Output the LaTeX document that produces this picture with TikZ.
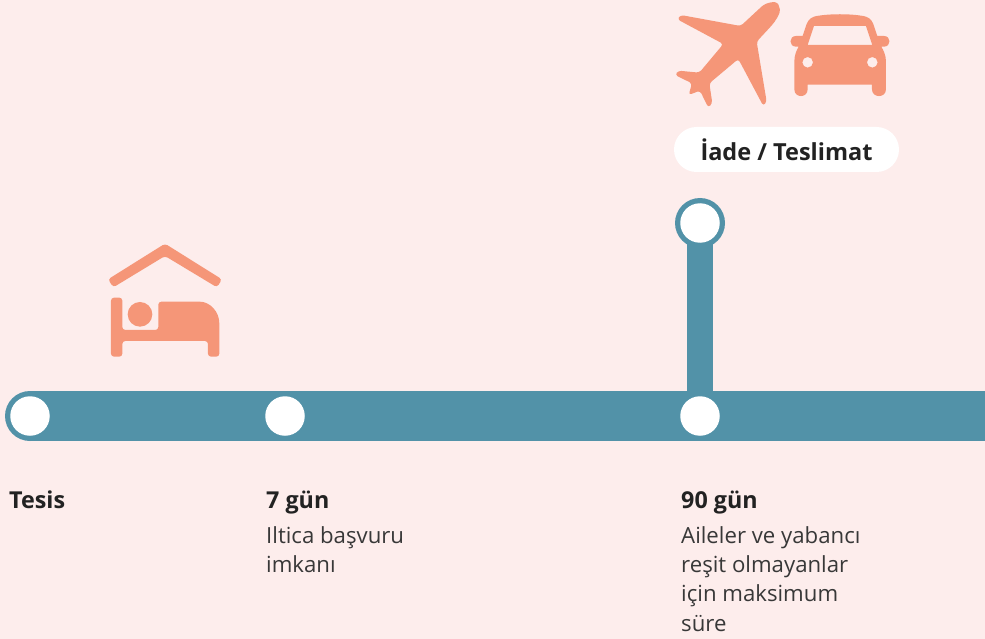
\documentclass[tikz,border=0pt]{standalone}
\usepackage{fontspec}
\usetikzlibrary{backgrounds}
\setmainfont{Open Sans}
\definecolor{bgpink}{HTML}{FDEDEC}
\definecolor{iconsalmon}{HTML}{F59678}
\definecolor{lineteal}{HTML}{5292A8}
\definecolor{textdark}{HTML}{222222}

\begin{document}
\begin{tikzpicture}[
        x=1pt, y=-1pt,
        icon/.style={fill=iconsalmon, draw=none},
        stop/.style={circle, fill=white, draw=none, minimum size=39.5pt, inner sep=0pt},
        head/.style={anchor=base west, inner sep=0pt, font=\fontsize{23.3}{28}\selectfont\bfseries, text=textdark},
        body/.style={anchor=north west, inner sep=0pt, align=left, font=\fontsize{22.2}{29.4}\selectfont, text=textdark!90},
    ]

    \useasboundingbox (0,0) rectangle (985,639);

    % timeline
    \node[stop] (tesis) at (30,416) {};
    \node[stop] (week) at (285,416) {};
    \node[stop] (days) at (700,416) {};
    \node[stop] (handover) at (700,223) {};
    \coordinate (lineend) at (985,416);

    \begin{pgfonlayer}{background}
        \fill[bgpink] (0,0) rectangle (985,639);
        \draw[lineteal, line width=50pt] (tesis.center) -- (lineend);
        \fill[lineteal] (tesis.center) circle (25);
        \draw[lineteal, line width=26pt] (days.center) -- (handover.center);
        \fill[lineteal] (handover.center) circle (25);
    \end{pgfonlayer}

    % pill
    \node[fill=white, rounded corners=22.5pt, minimum width=225pt, minimum height=45pt, inner sep=0pt,
        font=\fontsize{23.5}{28}\selectfont\bfseries, text=textdark] (pill) at (786.5,149.5) {İade / Teslimat};

    % plane and car
    \begin{scope}[shift={(660,0)}, x=0.3333pt, y=-0.3333pt]
        \fill[icon, rounded corners=3pt] (52,58) -- (62,45) -- (242,78) -- (298,26)
            .. controls (320,6) and (350,2) .. (358,20)
            .. controls (362,40) and (345,65) .. (330,82) -- (290,125) -- (320,305)
            -- (310,318) -- (235,177) -- (148,250) -- (157,310) -- (145,323)
            -- (120,272) -- (86,285) -- (96,250) -- (45,225) -- (55,212) -- (118,218)
            -- (190,132) -- cycle;
        \fill[icon, even odd rule] (403,185) .. controls (403,165) and (410,150) .. (416,140)
            -- (408,140) .. controls (386,140) and (386,108) .. (408,108) -- (428,108) -- (440,72)
            .. controls (446,56) and (458,50) .. (470,48)
            .. controls (510,41) and (570,41) .. (610,48)
            .. controls (622,50) and (634,56) .. (640,72) -- (652,108) -- (672,108)
            .. controls (694,108) and (694,140) .. (672,140) -- (664,140)
            .. controls (670,150) and (678,165) .. (678,185) -- (678,268)
            .. controls (678,295) and (636,295) .. (636,268) -- (636,254) -- (443,254) -- (443,268)
            .. controls (443,295) and (403,295) .. (403,268) -- cycle
            (443,135) -- (637,135) -- (618,78) -- (462,78) -- cycle
            (443,187) circle (5.33pt) (637,187) circle (5.33pt);
    \end{scope}

    % bed under roof
    \begin{scope}[shift={(90,230)}, x=0.3333pt, y=-0.3333pt]
        \fill[icon, rounded corners=3pt] (225,41) -- (396,148) -- (381,172) -- (225,78) -- (70,172) -- (54,148) -- cycle;
        \fill[icon, rounded corners=3pt] (63,203) -- (97,203) -- (97,300) -- (205,300) -- (205,215)
            -- (320,215) [rounded corners=0pt] .. controls (360,215) and (388,245) .. (388,280)
            [rounded corners=3pt] -- (388,380) -- (354,380) -- (354,333) -- (97,333) -- (97,380) -- (63,380) -- cycle;
        \fill[icon] (150,253) circle (12.33pt);
    \end{scope}

    % labels
    \node[head] (lbl0) at (9,508) {Tesis};
    \node[head] (lbl1) at (266,508) {7 gün};
    \node[head] (lbl2) at (681,508) {90 gün};
    \node[body] (txt1) at (266,526) {Iltica başvuru\\imkanı};
    \node[body] (txt2) at (681,526) {Aileler ve yabancı\\reşit olmayanlar\\için maksimum\\süre};
\end{tikzpicture}
\end{document}
